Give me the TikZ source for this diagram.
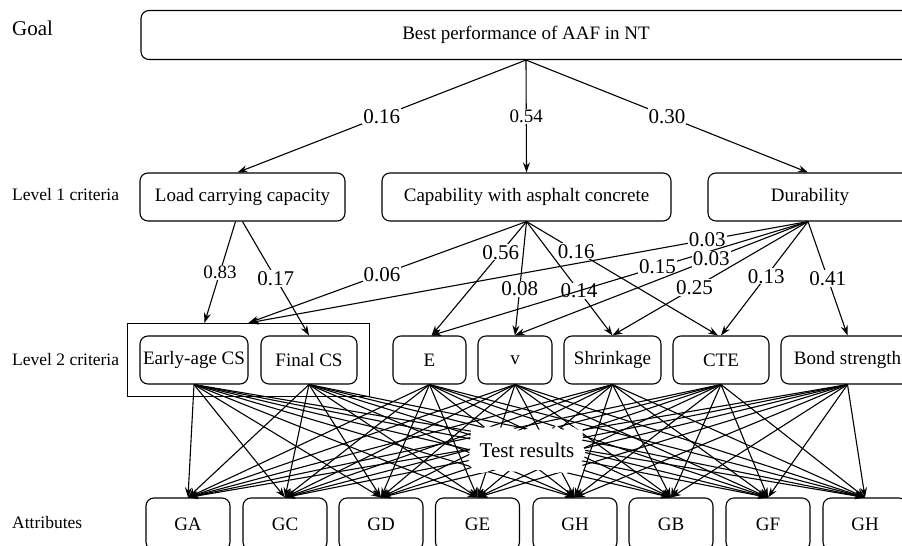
\documentclass[tikz,border=0pt]{standalone}
\usepackage{fontspec}
\setmainfont{Liberation Serif}
\usetikzlibrary{arrows.meta, fit, decorations.pathmorphing}

\begin{document}
\begin{tikzpicture}[
        x=1pt, y=-1pt,
        every node/.style={font=\fontsize{19}{23}\selectfont},
        crit/.style={rectangle, rounded corners=8pt, draw=black, line width=1.1pt, minimum height=48pt, inner sep=0pt},
        attr/.style={crit, minimum width=84pt, minimum height=52pt},
        levlab/.style={anchor=west, inner sep=0pt, font=\fontsize{17.5}{21}\selectfont},
        wlab/.style={fill=white, inner sep=1pt, font=\fontsize{21}{25}\selectfont},
        wlabs/.style={wlab, font=\fontsize{19}{23}\selectfont},
        arrow/.style={line width=1.1pt, -{Stealth[length=10pt,width=7pt]}}
    ]
    \pgfmathsetseed{7}
    \useasboundingbox (0,0) rectangle (902,546);
    \clip (0,0) rectangle (902,546);

    % Level names
    \node[levlab, font=\fontsize{21}{25}\selectfont] (goallab) at (12,28) {Goal};
    \node[levlab] (l1lab) at (12,195) {Level 1 criteria};
    \node[levlab] (l2lab) at (12,360) {Level 2 criteria};
    \node[levlab] (attlab) at (12,523) {Attributes};

    % Goal and criteria
    \node[crit, minimum width=770pt, minimum height=49pt] (goal) at (526,35) {Best performance of AAF in NT};

    \node[crit, minimum width=205pt] (load) at (242.5,197) {Load carrying capacity};
    \node[crit, minimum width=289pt] (cap) at (526.5,197) {Capability with asphalt concrete};
    \node[crit, minimum width=204pt] (dur) at (810,197) {Durability};

    \node[crit, minimum width=108pt] (early) at (194,360) {Early-age CS};
    \node[crit, minimum width=96pt] (final) at (309,360) {Final CS};
    \node[draw=black, line width=1.1pt, fit=(early)(final), inner xsep=12pt, inner ysep=12pt] (grp) {};
    \node[crit, minimum width=73pt] (e) at (429.5,360) {E};
    \node[crit, minimum width=74pt] (v) at (515,360) {v};
    \node[crit, minimum width=97pt] (shrink) at (612.5,360) {Shrinkage};
    \node[crit, minimum width=96pt] (cte) at (721,360) {CTE};
    \node[crit, minimum width=133pt] (bond) at (847.5,360) {Bond strength};

    % Attributes
    \node[attr] (ga) at (188,524) {GA};
    \node[attr] (gc) at (285,524) {GC};
    \node[attr] (gd) at (381,524) {GD};
    \node[attr] (ge) at (477.5,524) {GE};
    \node[attr] (gh) at (575,524) {GH};
    \node[attr] (gb) at (671,524) {GB};
    \node[attr] (gf) at (768,524) {GF};
    \node[attr] (ghb) at (865,524) {GH};

    % Goal to level 1
    \draw[arrow] (goal.south) -- node[wlab] {0.16} ([xshift=-5pt]load.north);
    \draw[arrow] (goal.south) -- node[wlabs] {0.54} (cap.north);
    \draw[arrow] (goal.south) -- node[wlab] {0.30} ([xshift=-2pt]dur.north);

    % Level 1 to level 2
    \draw[arrow] ([xshift=-7pt]load.south) -- node[wlabs] {0.83} ([xshift=-44pt]grp.north);
    \draw[arrow] (load.south) -- node[wlab] {0.17} (final.north);

    \draw[arrow] (cap.south) -- node[wlab, pos=0.52] {0.06} (grp.north);
    \draw[arrow] (cap.south) -- node[wlab, pos=0.27] {0.56} ([xshift=2pt]e.north);
    \draw[arrow] (cap.south) -- node[wlab, pos=0.59] {0.08} (v.north);
    \draw[arrow] (cap.south) -- node[wlab, pos=0.61] {0.14} (shrink.north);
    \draw[arrow] (cap.south) -- node[wlab, pos=0.26] {0.16} ([xshift=-3pt]cte.north);

    \draw[arrow] ([xshift=-2pt]dur.south) -- node[wlab, pos=0.18] {0.03} (grp.north);
    \draw[arrow] ([xshift=-2pt]dur.south) -- node[wlab, pos=0.40] {0.15} ([xshift=2pt]e.north);
    \draw[arrow] ([xshift=-2pt]dur.south) -- node[wlab, pos=0.33] {0.03} (v.north);
    \draw[arrow] ([xshift=-2pt]dur.south) -- node[wlab, pos=0.58] {0.25} (shrink.north);
    \draw[arrow] ([xshift=-2pt]dur.south) -- node[wlab, pos=0.48] {0.13} (cte.north);
    \draw[arrow] ([xshift=-2pt]dur.south) -- node[wlab, pos=0.50] {0.41} (bond.north);

    % Level 2 to attributes
    \foreach \src in {early,final,e,v,shrink,cte,bond}
        \foreach \dst in {ga,gc,gd,ge,gh,gb,gf,ghb}
            \draw[arrow] (\src.south) -- (\dst.north);

    \node[fill=white, minimum width=112pt, minimum height=44pt, decorate,
          decoration={random steps, segment length=5pt, amplitude=2.5pt},
          font=\fontsize{21}{25}\selectfont] (test) at (527,450) {Test results};

\end{tikzpicture}
\end{document}
